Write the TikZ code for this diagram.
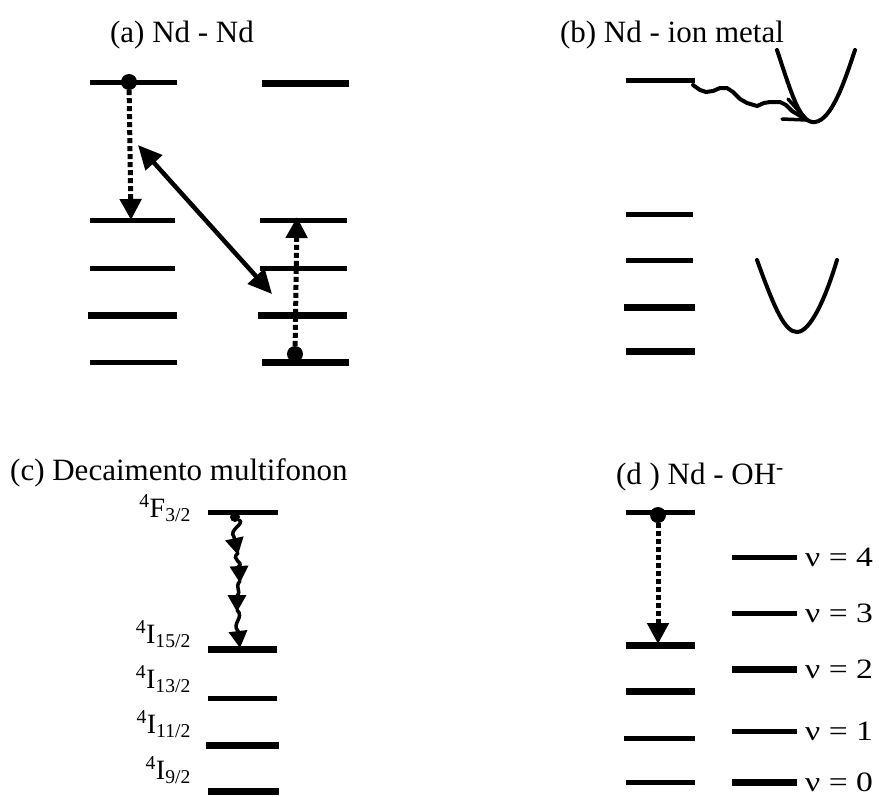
\documentclass[tikz,border=0pt]{standalone}
\usepackage{fontspec}
\setmainfont{Liberation Serif}
\newfontfamily\wideserif[FakeStretch=1.2]{Liberation Serif}
\usetikzlibrary{arrows.meta}
\tikzset{
  lvthin/.style={line width=5pt},
  lvthick/.style={line width=7pt},
  dotted arrow/.style={line width=5pt,dash pattern=on 5pt off 3pt,-{Triangle[length=21pt,width=21pt]}},
  dbl arrow/.style={line width=4.5pt,{Triangle[length=24pt,width=22pt]}-{Triangle[length=24pt,width=22pt]}},
  elec/.style={circle,fill=black,inner sep=0pt,minimum size=16pt},
  smallelec/.style={circle,fill=black,inner sep=0pt,minimum size=10pt},
  title/.style={font=\fontsize{31}{36}\selectfont,anchor=base,inner sep=0pt},
  lvlabel/.style={font=\fontsize{28}{32}\selectfont,anchor=base east,inner sep=0pt},
  nulabel/.style={font=\wideserif\fontsize{28}{32}\selectfont,anchor=west,inner sep=0pt},
  curve/.style={line width=4pt,line cap=round},
  phonon/.style={line width=3.5pt,line cap=round,-{Triangle[length=17pt,width=18pt]}},
}
\newcommand{\nulab}[1]{ν\hspace{0.3em}=\hspace{0.3em}#1}
\begin{document}
\begin{tikzpicture}[x=1pt,y=-1pt]
\useasboundingbox (0,0) rectangle (879,796);

% ---------- titles
\node[title] (ta) at (182,42) {(a) Nd - Nd};
\node[title] (tb) at (672,42) {(b) Nd - ion metal};
\node[title,anchor=base west] (tc) at (10,480) {(c) Decaimento multifonon};
\node[title] (td) at (700,484) {(d ) Nd - OH\textsuperscript{-}};

% ---------- panel (a)
\draw[lvthin]  (90,82)  -- (177,82);
\draw[lvthin]  (90,220) -- (175,220);
\draw[lvthin]  (90,268) -- (175,268);
\draw[lvthick] (88,315) -- (177,315);
\draw[lvthin]  (90,362) -- (177,362);
\draw[lvthick] (262,83) -- (349,83);
\draw[lvthin]  (260,220) -- (347,220);
\draw[lvthin]  (260,268) -- (347,268);
\draw[lvthick] (258,315) -- (347,315);
\draw[lvthick] (262,362) -- (349,362);

\node[elec] (ea) at (129,82) {};
\coordinate (ea1) at (131,220);
\draw[dotted arrow] (ea) -- (ea1);
\node[elec] (eb) at (295,354) {};
\coordinate (eb1) at (297,217);
\draw[dotted arrow] (eb) -- (eb1);
\coordinate (da1) at (138,145);
\coordinate (da2) at (272,294);
\draw[dbl arrow] (da1) -- (da2);

% ---------- panel (b)
\draw[lvthin]  (626,80)  -- (695,80);
\draw[lvthin]  (626,214) -- (693,214);
\draw[lvthin]  (626,260) -- (693,260);
\draw[lvthick] (624,307) -- (695,307);
\draw[lvthick] (626,351) -- (695,351);

\draw[curve] (777,50) .. controls (792,95) and (800,124) .. (815,122)
             .. controls (832,120) and (845,80) .. (855,50);
\draw[curve] (757,260) .. controls (775,310) and (785,332) .. (797,332)
             .. controls (810,332) and (825,300) .. (837,260);

\coordinate (wb0) at (693,85);
\coordinate (wbt) at (807,120);
\draw[line width=4pt,line cap=round,line join=round] (wb0)
  -- (700,90) -- (706,92) -- (713,91) -- (720,88) -- (727,88) -- (733,92)
  -- (740,99) -- (747,103) -- (757,106) -- (764,103) -- (770,102) -- (780,102)
  -- (786,105) -- (792,111) -- (wbt);
\coordinate (wba) at (782,119);
\coordinate (wbb) at (788,99);
\draw[line width=3.5pt,line cap=round] (wba) -- (wbt) -- (wbb);

% ---------- panel (c)
\draw[lvthin]  (208,512) -- (278,512);
\draw[lvthick] (208,649) -- (277,649);
\draw[lvthin]  (208,698) -- (277,698);
\draw[lvthick] (206,745) -- (279,745);
\draw[lvthick] (208,791) -- (279,791);

\node[lvlabel] (lf) at (191,517) {\textsuperscript{4}F\textsubscript{3/2}};
\node[lvlabel] (l15) at (191,643) {\textsuperscript{4}I\textsubscript{15/2}};
\node[lvlabel] (l13) at (191,688) {\textsuperscript{4}I\textsubscript{13/2}};
\node[lvlabel] (l11) at (191,733) {\textsuperscript{4}I\textsubscript{11/2}};
\node[lvlabel] (l9)  at (191,779) {\textsuperscript{4}I\textsubscript{9/2}};

\node[smallelec] (ec) at (235,517) {};
\coordinate (c1) at (238,555);
\coordinate (c1b) at (238,553);
\coordinate (c2) at (240,583);
\coordinate (c2b) at (240,581);
\coordinate (c3) at (237,612);
\coordinate (c3b) at (237,610);
\coordinate (c4) at (240,648);
\draw[phonon] (ec) .. controls (245,524) and (228,530) .. (234,537) -- (c1);
\draw[phonon] (c1b) .. controls (230,560) and (244,562) .. (239,566) -- (c2);
\draw[phonon] (c2b) .. controls (234,588) and (242,590) .. (237,596) -- (c3);
\draw[phonon] (c3b) .. controls (245,617) and (231,624) .. (238,631) -- (c4);

% ---------- panel (d)
\draw[lvthin]  (626,512) -- (695,512);
\draw[lvthick] (626,645) -- (695,645);
\draw[lvthick] (626,691) -- (695,691);
\draw[lvthin]  (624,738) -- (695,738);
\draw[lvthin]  (626,782) -- (695,782);

\node[elec] (ed) at (658,515) {};
\coordinate (ed1) at (658,644);
\draw[dotted arrow] (ed) -- (ed1);

\draw[lvthin]  (732,557) -- (797,557);
\draw[lvthin]  (732,613) -- (797,613);
\draw[lvthick] (732,669) -- (797,669);
\draw[lvthin]  (732,731) -- (797,731);
\draw[lvthick] (732,782) -- (797,782);
\node[nulabel] (n4) at (805,557) {\nulab{4}};
\node[nulabel] (n3) at (805,613) {\nulab{3}};
\node[nulabel] (n2) at (805,669) {\nulab{2}};
\node[nulabel] (n1) at (805,731) {\nulab{1}};
\node[nulabel] (n0) at (805,782) {\nulab{0}};
\end{tikzpicture}
\end{document}
